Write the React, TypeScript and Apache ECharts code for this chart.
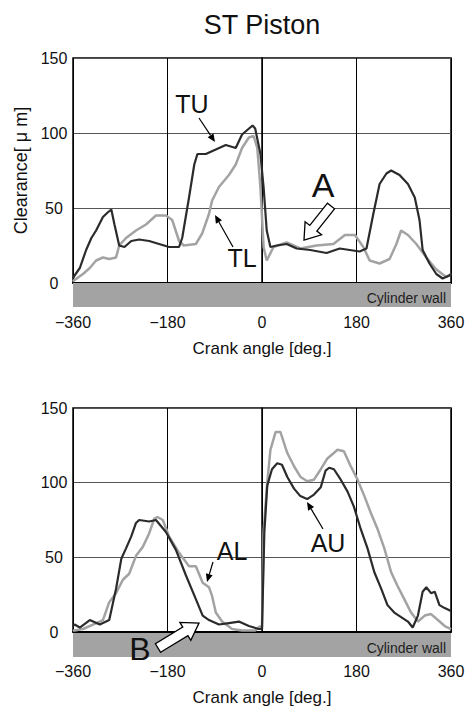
import React, { useEffect, useRef } from "react";
import * as echarts from "echarts";

// ---- Data ----
const xTickValues = [-360, -180, 0, 180, 360];
const yTickValues = [0, 50, 100, 150];

const tuAngle = [-360, -357, -347, -335, -325, -316, -303, -294, -287, -281, -272, -262, -249, -234, -215, -196, -177, -158, -152, -139, -129, -123, -107, -88, -69, -50, -38, -18, -13, -3, 3, 9, 16, 28, 47, 66, 92, 123, 148, 167, 186, 199, 212, 224, 237, 246, 262, 278, 291, 300, 306, 319, 332, 344, 357, 360];
const tuClearance = [3, 5, 10, 22, 30, 35, 44, 47, 49, 39, 25, 24, 28, 29, 28, 26, 24, 24, 30, 57, 79, 86, 86, 89, 92, 90, 99, 105, 103, 86, 64, 35, 24, 25, 26, 23, 22, 20, 23, 22, 21, 23, 46, 66, 73, 75, 72, 66, 57, 42, 22, 13, 6, 3, 5, 6];

const tlAngle = [-360, -357, -341, -328, -316, -303, -291, -278, -272, -259, -240, -221, -202, -183, -171, -158, -149, -126, -114, -101, -95, -82, -63, -50, -38, -25, -16, -9, -3, 3, 9, 22, 47, 73, 104, 136, 158, 177, 193, 205, 224, 243, 256, 265, 278, 294, 313, 332, 351, 360];
const tlClearance = [1, 2, 6, 10, 15, 17, 16, 17, 25, 30, 35, 39, 45, 45, 42, 28, 25, 26, 33, 46, 55, 64, 72, 79, 90, 97, 98, 90, 64, 24, 15, 24, 27, 23, 25, 26, 32, 32, 24, 15, 13, 16, 26, 35, 32, 26, 17, 9, 4, 6];

const auAngle = [-360, -357, -347, -328, -309, -291, -278, -268, -259, -249, -240, -234, -215, -202, -183, -164, -145, -126, -113, -101, -82, -63, -44, -25, -6, 0, 4.5, 10, 19, 29, 38, 48, 61, 73, 86, 99, 112, 121, 128, 137, 150, 163, 175, 188, 201, 214, 227, 239, 252, 265, 278, 287, 297, 306, 313, 322, 329, 338, 348, 360];
const auClearance = [4, 5, 3, 8, 5, 8, 29, 49, 56, 64, 73, 75, 74, 75, 67, 55, 38, 22, 11, 8, 5, 6, 7, 4, 2, 2, 67, 98, 109, 113, 112, 104, 96, 91, 89, 92, 97, 108, 110, 109, 102, 94, 84, 69, 56, 40, 29, 18, 13, 10, 7, 3, 11, 27, 30, 26, 27, 18, 16, 14];

const alAngle = [-360, -357, -341, -322, -303, -291, -278, -265, -253, -240, -227, -215, -205, -199, -189, -177, -158, -139, -126, -113, -101, -95, -88, -76, -57, -38, -13, -3, 0, 3, 10, 16, 26, 35, 48, 61, 73, 86, 99, 112, 124, 144, 156, 169, 182, 195, 207, 220, 233, 246, 258, 271, 284, 297, 310, 322, 335, 348, 360];
const alClearance = [1, 1, 2, 5, 8, 20, 26, 35, 39, 51, 57, 66, 76, 77, 75, 64, 53, 44, 44, 33, 30, 24, 13, 7, 2, 1, 1, 4, 2, 67, 100, 122, 134, 134, 120, 111, 104, 101, 102, 109, 116, 122, 121, 111, 102, 91, 80, 69, 56, 40, 31, 22, 13, 7, 11, 12, 8, 4, 2];

const zip = (xs: number[], ys: number[]) => xs.map((x, i) => [x, ys[i]]);

const FONT = "'Liberation Sans', Arial, sans-serif";
const DARK = "#2b2b2b";
const LIGHT = "#a3a3a3";

function blockArrow(tx: number, ty: number, hx: number, hy: number, shaftW: number, headW: number, headL: number) {
  const dx = hx - tx, dy = hy - ty;
  const L = Math.hypot(dx, dy);
  const ux = dx / L, uy = dy / L;
  const nx = -uy, ny = ux;
  const bx = hx - ux * headL, by = hy - uy * headL;
  return [
    [tx + (nx * shaftW) / 2, ty + (ny * shaftW) / 2],
    [bx + (nx * shaftW) / 2, by + (ny * shaftW) / 2],
    [bx + (nx * headW) / 2, by + (ny * headW) / 2],
    [hx, hy],
    [bx - (nx * headW) / 2, by - (ny * headW) / 2],
    [bx - (nx * shaftW) / 2, by - (ny * shaftW) / 2],
    [tx - (nx * shaftW) / 2, ty - (ny * shaftW) / 2],
  ];
}

function thinArrow(x1: number, y1: number, x2: number, y2: number) {
  const dx = x2 - x1, dy = y2 - y1;
  const L = Math.hypot(dx, dy);
  const ux = dx / L, uy = dy / L;
  const nx = -uy, ny = ux;
  const hl = 8, hw = 3.5;
  const bx = x2 - ux * hl, by = y2 - uy * hl;
  return [
    { type: "line", shape: { x1, y1, x2: bx, y2: by }, style: { stroke: "#000", lineWidth: 1.2 }, z: 20 },
    {
      type: "polygon",
      shape: { points: [[x2, y2], [bx + nx * hw, by + ny * hw], [bx - nx * hw, by - ny * hw]] },
      style: { fill: "#000" },
      z: 20,
    },
  ];
}

function label(text: string, x: number, y: number, size: number) {
  return {
    type: "text",
    x,
    y,
    z: 20,
    style: { text, fill: "#111", fontSize: size, fontFamily: FONT, align: "center", verticalAlign: "middle" },
  };
}

const fmt = (v: number) => (xTickValues.includes(v) ? String(v).replace("-", "\u2212") : "");

function makeX(gridIndex: number) {
  return {
    type: "value",
    gridIndex,
    min: -360,
    max: 360,
    interval: 180,
    axisLine: { show: true, onZero: false, lineStyle: { color: "#000", width: 2 } },
    axisTick: { show: false },
    splitLine: { show: true, lineStyle: { color: "#000", width: 1 } },
    axisLabel: { margin: 31, fontSize: 16, color: "#111", fontFamily: FONT, formatter: fmt },
    name: "Crank angle [deg.]",
    nameLocation: "middle",
    nameGap: 57,
    nameTextStyle: { fontSize: 17, color: "#111", fontFamily: FONT },
  };
}

function makeY(gridIndex: number, name: string) {
  return {
    type: "value",
    gridIndex,
    min: 0,
    max: 150,
    interval: 50,
    axisLine: { show: true, lineStyle: { color: "#000", width: 1.5 } },
    axisTick: { show: false },
    splitLine: { show: true, lineStyle: { color: "#555", width: 1 } },
    axisLabel: {
      margin: 19,
      align: "center",
      fontSize: 16,
      color: "#111",
      fontFamily: FONT,
      formatter: (v: number) => (yTickValues.includes(v) ? String(v) : ""),
    },
    name,
    nameLocation: "middle",
    nameRotate: 90,
    nameGap: 43,
    nameTextStyle: { fontSize: 18, color: "#111", fontFamily: FONT },
  };
}

function lineSeries(name: string, data: number[][], idx: number, color: string, width: number, z: number) {
  return {
    type: "line",
    name,
    xAxisIndex: idx,
    yAxisIndex: idx,
    data,
    showSymbol: false,
    symbol: "none",
    lineStyle: { color, width },
    z,
  };
}

export default function App() {
  const ref = useRef<HTMLDivElement>(null);

  useEffect(() => {
    document.body.style.margin = "0";
    if (!ref.current) return;
    const chart = echarts.init(ref.current, undefined, { renderer: "svg" });

    const gridLeft = 73;
    const gridW = 378;
    const top1 = 58;
    const top2 = 408;
    const gridH = 225;
    const bandH = 24;

    const graphics: any[] = [
      label("ST Piston", 262, 25, 27),
      { type: "rect", shape: { x: gridLeft, y: top1 + gridH, width: gridW, height: bandH }, style: { fill: "#a3a3a3" }, z: 1 },
      { type: "rect", shape: { x: gridLeft, y: top2 + gridH, width: gridW, height: bandH }, style: { fill: "#a3a3a3" }, z: 1 },
      {
        type: "text",
        x: 446,
        y: top1 + gridH + 15,
        z: 5,
        style: { text: "Cylinder wall", fill: "#222", fontSize: 14, fontFamily: FONT, align: "right", verticalAlign: "middle" },
      },
      {
        type: "text",
        x: 446,
        y: top2 + gridH + 15,
        z: 5,
        style: { text: "Cylinder wall", fill: "#222", fontSize: 14, fontFamily: FONT, align: "right", verticalAlign: "middle" },
      },
      label("TU", 192, 104, 25),
      ...thinArrow(199, 118, 215, 142),
      label("TL", 242, 258, 25),
      ...thinArrow(233, 247, 215, 215),
      label("A", 323, 185, 34),
      {
        type: "polygon",
        shape: { points: blockArrow(331, 206, 304, 240, 9, 21, 15) },
        style: { fill: "#fff", stroke: "#000", lineWidth: 1.3 },
        z: 20,
      },
      label("AL", 232, 551, 25),
      ...thinArrow(213, 562, 207, 582),
      label("AU", 328, 543, 25),
      ...thinArrow(323, 529, 307, 502),
      label("B", 140, 649, 32),
      {
        type: "polygon",
        shape: { points: blockArrow(158, 648, 199, 623, 10, 21, 16) },
        style: { fill: "#fff", stroke: "#000", lineWidth: 1.3 },
        z: 20,
      },
    ];

    chart.setOption({
      animation: false,
      backgroundColor: "#fff",
      grid: [
        { left: gridLeft, top: top1, width: gridW, height: gridH, show: true, borderColor: "#000", borderWidth: 1.5, backgroundColor: "transparent" },
        { left: gridLeft, top: top2, width: gridW, height: gridH, show: true, borderColor: "#000", borderWidth: 1.5, backgroundColor: "transparent" },
      ],
      xAxis: [makeX(0), makeX(1)],
      yAxis: [makeY(0, "Clearance[ \u03bc m]"), makeY(1, "")],
      series: [
        lineSeries("TL", zip(tlAngle, tlClearance), 0, LIGHT, 2.5, 2),
        lineSeries("TU", zip(tuAngle, tuClearance), 0, DARK, 2.2, 3),
        lineSeries("AL", zip(alAngle, alClearance), 1, LIGHT, 2.5, 2),
        lineSeries("AU", zip(auAngle, auClearance), 1, DARK, 2.2, 3),
      ],
      graphic: graphics,
    });

    return () => chart.dispose();
  }, []);

  return <div ref={ref} style={{ width: 470, height: 707 }} />;
}
